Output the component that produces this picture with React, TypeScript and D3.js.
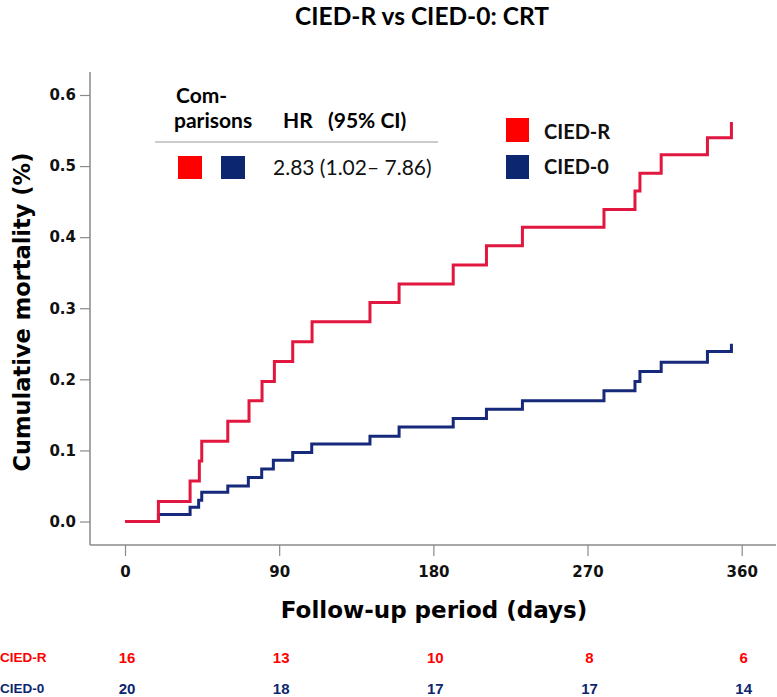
import { useEffect, useRef } from "react";
import * as d3 from "d3";

// follow-up axis and risk table columns
const dayTicks = [0, 90, 180, 270, 360];
const yTicks = [0, 0.1, 0.2, 0.3, 0.4, 0.5, 0.6];

// Kaplan-Meier style cumulative mortality steps
const redTimes = [0, 19.5, 38, 43.4, 44.8, 60, 72.4, 80, 87.2, 97.9, 109.2, 143, 160, 191.6, 211, 232, 279.6, 297.7, 300.6, 313, 340, 354];
const redValues = [0, 0.028, 0.057, 0.085, 0.113, 0.141, 0.17, 0.197, 0.225, 0.253, 0.281, 0.308, 0.334, 0.361, 0.388, 0.414, 0.439, 0.465, 0.49, 0.516, 0.54, 0.562];
const blueTimes = [0, 19.5, 38, 43, 44.8, 60, 72, 79.8, 86.6, 97.9, 109, 143, 160, 191.6, 211, 232, 279.6, 297.7, 300.6, 313, 340, 354];
const blueValues = [0, 0.01, 0.02, 0.03, 0.041, 0.05, 0.062, 0.074, 0.086, 0.097, 0.109, 0.12, 0.133, 0.145, 0.158, 0.17, 0.184, 0.197, 0.211, 0.224, 0.239, 0.25];

const groups = ["CIED-R", "CIED-0"];
const atRiskR = [16, 13, 10, 8, 6];
const atRisk0 = [20, 18, 17, 17, 14];

const hrValue = "2.83 (1.02\u2013 7.86)";

const RED = "#ff0000";
const NAVY = "#0c2670";
const RED_LINE = "#e2173f";
const BLUE_LINE = "#16297a";
const AXIS = "#8a8a8a";
const SANS = "'DejaVu Sans', Verdana, sans-serif";
const LATO = "Lato, 'Open Sans', sans-serif";
const ARIAL = "'Liberation Sans', Arial, sans-serif";

export default function App() {
  const ref = useRef<SVGSVGElement>(null);

  useEffect(() => {
    if (!ref.current) return;
    const svg = d3.select(ref.current);
    svg.selectAll("*").remove();

    const x = d3.scaleLinear().domain([0, 360]).range([125, 741.7]);
    const y = d3.scaleLinear().domain([0, 0.6]).range([521.5, 95]);
    const axisX = 90;
    const axisY = 545;

    // title
    svg.append("text")
      .attr("x", 422).attr("y", 25)
      .attr("text-anchor", "middle")
      .attr("font-family", LATO).attr("font-weight", "bold").attr("font-size", 24.5)
      .text("CIED-R vs CIED-0: CRT");

    // y axis
    svg.append("line")
      .attr("x1", axisX).attr("x2", axisX).attr("y1", 72).attr("y2", axisY)
      .attr("stroke", AXIS).attr("stroke-width", 1.5);
    svg.append("g")
      .attr("transform", `translate(${axisX},0)`)
      .call(d3.axisLeft(y).tickValues(yTicks).tickSize(10).tickPadding(4).tickFormat(d3.format(".1f")))
      .call((g) => g.select(".domain").remove())
      .call((g) => g.selectAll("line").attr("stroke", AXIS).attr("stroke-width", 1.2))
      .call((g) => g.selectAll("text")
        .attr("font-family", SANS).attr("font-weight", "bold").attr("font-size", 15).attr("fill", "#111"));

    // x axis
    svg.append("line")
      .attr("x1", axisX).attr("x2", 776).attr("y1", axisY).attr("y2", axisY)
      .attr("stroke", AXIS).attr("stroke-width", 1.5);
    svg.append("g")
      .attr("transform", `translate(0,${axisY})`)
      .call(d3.axisBottom(x).tickValues(dayTicks).tickSize(11).tickPadding(10).tickFormat(d3.format("d")))
      .call((g) => g.select(".domain").remove())
      .call((g) => g.selectAll("line").attr("stroke", AXIS).attr("stroke-width", 1.2))
      .call((g) => g.selectAll("text")
        .attr("font-family", SANS).attr("font-weight", "bold").attr("font-size", 15).attr("fill", "#111"));

    // axis titles
    svg.append("text")
      .attr("x", 434).attr("y", 618)
      .attr("text-anchor", "middle")
      .attr("font-family", SANS).attr("font-weight", "bold").attr("font-size", 23)
      .text("Follow-up period (days)");
    svg.append("text")
      .attr("transform", "translate(30,312) rotate(-90)")
      .attr("text-anchor", "middle")
      .attr("font-family", SANS).attr("font-weight", "bold").attr("font-size", 22.5)
      .text("Cumulative mortality (%)");

    // step curves, CIED-0 underneath
    const step = d3.line<number>()
      .curve(d3.curveStepAfter);
    const series = [
      { t: blueTimes, v: blueValues, c: BLUE_LINE },
      { t: redTimes, v: redValues, c: RED_LINE },
    ];
    series.forEach((s) => {
      step.x((_, i) => x(s.t[i])).y((d) => y(d));
      svg.append("path")
        .attr("d", step(s.v))
        .attr("fill", "none")
        .attr("stroke", s.c).attr("stroke-width", 3)
        .attr("stroke-linejoin", "miter");
    });

    // hazard ratio box
    const hr = svg.append("g");
    hr.append("text").attr("x", 176).attr("y", 103)
      .attr("font-family", LATO).attr("font-weight", "bold").attr("font-size", 21).text("Com-");
    hr.append("text").attr("x", 174).attr("y", 128)
      .attr("font-family", LATO).attr("font-weight", "bold").attr("font-size", 21).text("parisons");
    hr.append("text").attr("x", 283).attr("y", 128)
      .attr("font-family", LATO).attr("font-weight", "bold").attr("font-size", 21).text("HR");
    hr.append("text").attr("x", 328).attr("y", 128)
      .attr("font-family", LATO).attr("font-weight", "bold").attr("font-size", 21).text("(95% CI)");
    hr.append("line").attr("x1", 155).attr("x2", 438).attr("y1", 142).attr("y2", 142)
      .attr("stroke", "#999").attr("stroke-width", 1.2);
    hr.append("rect").attr("x", 178).attr("y", 156).attr("width", 24).attr("height", 23).attr("fill", RED);
    hr.append("rect").attr("x", 221).attr("y", 156).attr("width", 24).attr("height", 23).attr("fill", NAVY);
    hr.append("text").attr("x", 273).attr("y", 175)
      .attr("font-family", LATO).attr("font-size", 21).attr("fill", "#111").text(hrValue);

    // group legend
    const legend = svg.append("g");
    [RED, NAVY].forEach((c, i) => {
      legend.append("rect").attr("x", 506).attr("y", 118 + i * 37).attr("width", 23).attr("height", 24).attr("fill", c);
      legend.append("text").attr("x", 544).attr("y", 139 + i * 35)
        .attr("font-family", LATO).attr("font-weight", "bold").attr("font-size", 20).attr("fill", "#111")
        .text(groups[i]);
    });

    // numbers at risk
    const rows = [
      { label: groups[0], vals: atRiskR, c: RED, by: 663 },
      { label: groups[1], vals: atRisk0, c: NAVY, by: 694 },
    ];
    rows.forEach((r) => {
      svg.append("text").attr("x", 0).attr("y", r.by - 1)
        .attr("font-family", ARIAL).attr("font-weight", "bold").attr("font-size", 13.5).attr("fill", r.c)
        .text(r.label);
      r.vals.forEach((v, i) => {
        svg.append("text").attr("x", x(dayTicks[i]) + 2).attr("y", r.by)
          .attr("text-anchor", "middle")
          .attr("font-family", ARIAL).attr("font-weight", "bold").attr("font-size", 15).attr("fill", r.c)
          .text(v);
      });
    });
  }, []);

  return (
    <svg
      ref={ref}
      width={777}
      height={697}
      style={{ position: "absolute", left: 0, top: 0, background: "#fff" }}
    />
  );
}
